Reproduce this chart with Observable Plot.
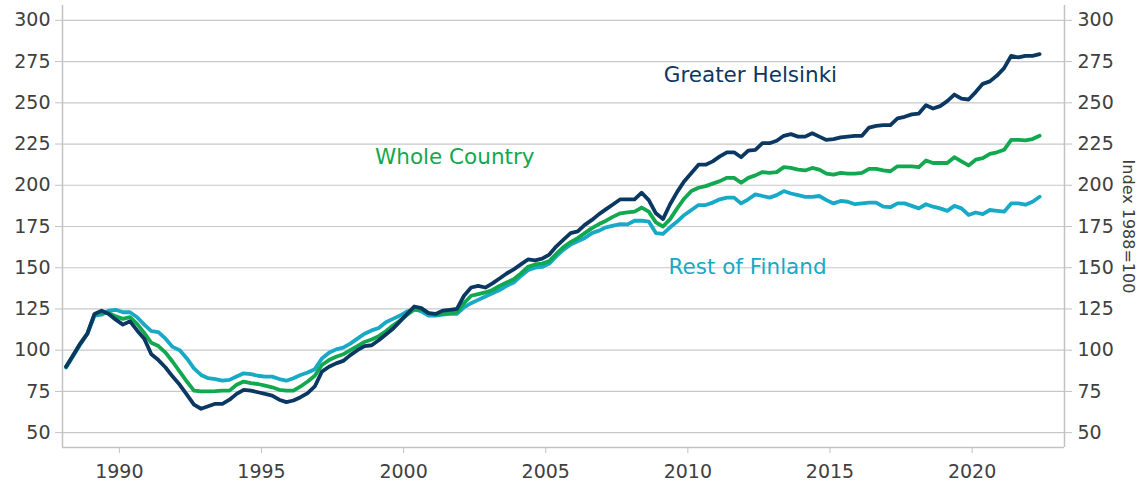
<!DOCTYPE html>
<html>
<head>
<meta charset="utf-8">
<script src="https://cdn.jsdelivr.net/npm/d3@7"></script>
<script src="https://cdn.jsdelivr.net/npm/@observablehq/plot@0.6"></script>
<style>
  html, body { margin: 0; padding: 0; background: #ffffff; }
  #chart svg { display: block; }
</style>
</head>
<body>
<div id="chart"></div>
<script>
// ---- Data (quarterly index, 1988=100), first quarter 1988Q1 ----
const firstYear = 1988;
const seriesNames = ["Greater Helsinki", "Whole Country", "Rest of Finland"];
const seriesColors = ["#0b3862", "#11a84f", "#17a9c5"];

const greaterHelsinki = [
  90, 97, 104, 110,        // 1988
  122, 124, 122, 118.5,    // 1989
  115.5, 117.5, 112, 107,  // 1990
  97.5, 94, 89.5, 84,      // 1991
  79, 73, 67, 64.5,        // 1992
  66, 67.5, 67.5, 70,      // 1993
  73.5, 76, 75.5, 74.5,    // 1994
  73.5, 72.5, 70, 68.5,    // 1995
  69.5, 71.5, 74, 78,      // 1996
  87, 90, 92, 93.5,        // 1997
  97, 100, 102.5, 103,     // 1998
  106, 109.5, 113, 117.5,  // 1999
  122, 126.5, 125.5, 122.5,// 2000
  122, 124, 124.5, 125,    // 2001
  133, 138, 139, 138,      // 2002
  140.5, 143.5, 146.5, 149,// 2003
  152, 155, 154.5, 155.5,  // 2004
  158, 163, 167, 171,      // 2005
  172, 176, 179, 182.5,    // 2006
  185.5, 188.5, 191.5, 191.5, // 2007
  191.5, 195.5, 191, 183,  // 2008
  179.5, 188.5, 196, 202.5,// 2009
  207.5, 212.5, 212.5, 214.5, // 2010
  217.5, 220, 220, 217,    // 2011
  221, 221.5, 225.5, 225.5,// 2012
  227, 230, 231, 229.5,    // 2013
  229.5, 231.5, 229.5, 227.5, // 2014
  228, 229, 229.5, 230,    // 2015
  230, 235, 236, 236.5,    // 2016
  236.5, 240.5, 241.5, 243,// 2017
  243.5, 248.5, 246.5, 248,// 2018
  251, 255, 252.5, 252,    // 2019
  256.5, 261.5, 263, 266.5,// 2020
  271, 278.5, 277.5, 278.5,// 2021
  278.5, 279.5             // 2022
];

const wholeCountry = [
  90, 97, 104, 110,
  121.5, 123, 122.5, 120.5,
  119, 120, 116, 110.5,
  104.5, 102.5, 98.5, 93,
  87, 81, 75.5, 75,
  75, 75.2, 75.5, 75.5,
  79, 81, 80, 79.5,
  78.5, 77.5, 76, 75.5,
  75.5, 78, 81, 84.5,
  91, 94, 96, 97.5,
  100, 102.5, 105, 106.5,
  108.5, 111.5, 115, 118,
  121.5, 124.5, 124.5, 122.5,
  121.5, 122, 122.5, 123,
  128.5, 133, 134, 135,
  136.5, 139, 141, 143,
  146.5, 150.5, 152, 152.5,
  154, 158.5, 162.5, 165.5,
  168, 171, 174, 176.5,
  178.5, 181, 183, 183.5,
  184, 186.5, 184, 177.5,
  175, 179.5, 186, 192,
  196.5, 198.5, 199.5, 201,
  202.5, 204.5, 204.5, 201.5,
  204.5, 206, 208, 207.5,
  208, 211, 210.5, 209.5,
  209, 210.5, 209.5, 207,
  206.5, 207.5, 207, 207,
  207.5, 210, 210, 209,
  208.5, 211.5, 211.5, 211.5,
  211, 215, 213.5, 213.5,
  213.5, 217, 214.5, 212,
  215.5, 216.5, 219, 220,
  221.5, 227.5, 227.5, 227.2,
  228, 230
];

const restOfFinland = [
  89.5, 96.5, 103.5, 110,
  121, 121.5, 124, 124.5,
  123, 123, 120, 115.5,
  111.5, 111, 107, 102,
  100, 95, 89, 85,
  83, 82.5, 81.5, 82,
  84, 86, 85.5, 84.5,
  84, 84, 82.5, 81.5,
  83, 85, 86.5, 88.5,
  95, 98.5, 100.5, 101.5,
  104, 107, 110, 112,
  113.5, 117, 119, 121,
  123.5, 125, 123.5, 121,
  121, 121.5, 122, 122,
  126, 128.5, 130.5, 132.5,
  134.5, 136.5, 139, 141,
  145, 148.5, 150, 150.5,
  152.5, 157, 161, 164,
  166, 168, 171, 172.5,
  174.5, 175.5, 176.5, 176.3,
  178.5, 178.5, 178, 171,
  170.5, 174.5, 178, 182,
  185, 188, 188, 189.5,
  191.5, 192.5, 192.5, 189,
  191.5, 194.5, 193.5, 192.5,
  194, 196.5, 195, 194,
  193, 193, 193.5, 191,
  189, 190.5, 190, 188.5,
  189, 189.5, 189.5, 187,
  186.7, 189, 189, 187.5,
  186, 188.5, 187, 186,
  184.5, 187.5, 186, 182,
  183.5, 182.5, 185, 184.5,
  184, 189, 189, 188.2,
  190, 193
];

const xTicks = [1990, 1995, 2000, 2005, 2010, 2015, 2020];
const yTicks = [50, 75, 100, 125, 150, 175, 200, 225, 250, 275, 300];
const axisTitle = "Index 1988=100";
// label anchors in data coordinates (year, index value)
const labelYears = [2012.2, 2001.8, 2012.1];
const labelValues = [266.6, 216.9, 150.1];

// ---- Build tidy table ----
const seriesValues = [greaterHelsinki, wholeCountry, restOfFinland];
const rows = [];
seriesNames.forEach((name, s) => {
  seriesValues[s].forEach((v, i) => {
    rows.push({ series: name, t: firstYear + (i + 0.5) / 4, value: v });
  });
});
const drawOrder = ["Rest of Finland", "Whole Country", "Greater Helsinki"];
rows.sort((a, b) => drawOrder.indexOf(a.series) - drawOrder.indexOf(b.series));
const labels = seriesNames.map((name, i) => ({ name, t: labelYears[i], value: labelValues[i] }));

const xDomain = [1988, 2023.25];
const yDomain = [41, 309];
const axisGray = "#c2c2c2";
const textGray = "#404040";
const font = "'DejaVu Sans', sans-serif";

const chart = Plot.plot({
  width: 1138,
  height: 485,
  marginLeft: 62,
  marginRight: 74,
  marginTop: 5,
  marginBottom: 38,
  style: { fontFamily: font, fontSize: "19px", background: "#ffffff", color: textGray },
  x: { domain: xDomain },
  y: { domain: yDomain },
  color: { domain: seriesNames, range: seriesColors },
  marks: [
    Plot.gridY(yTicks, { stroke: "#c8c8c8", strokeOpacity: 1, strokeWidth: 1.2 }),
    Plot.ruleX([xDomain[0], xDomain[1]], { stroke: axisGray, strokeWidth: 1.5 }),
    Plot.ruleY([yDomain[0]], { stroke: axisGray, strokeWidth: 1.5 }),
    Plot.axisY(yTicks, { anchor: "left", tickSize: 7, tickPadding: 5, stroke: axisGray, fill: textGray, label: null, fontSize: 19 }),
    Plot.axisY(yTicks, { anchor: "right", tickSize: 7, tickPadding: 6, stroke: axisGray, fill: textGray, label: null, fontSize: 19 }),
    Plot.axisX(xTicks, { anchor: "bottom", tickSize: 6, tickPadding: 11, stroke: axisGray, fill: textGray, label: null, tickFormat: d => String(d), fontSize: 19 }),
    Plot.line(rows, { x: "t", y: "value", z: "series", stroke: "series", strokeWidth: 3.8, strokeLinejoin: "round", strokeLinecap: "round" }),
    Plot.text(labels, { x: "t", y: "value", text: "name", fill: d => d.name, fontSize: 21.5, textAnchor: "middle" }),
    Plot.text([axisTitle], { frameAnchor: "right", textAnchor: "middle", rotate: 90, dx: 64, fill: textGray, fontSize: 16 })
  ]
});

document.getElementById("chart").appendChild(chart);
</script>
</body>
</html>
